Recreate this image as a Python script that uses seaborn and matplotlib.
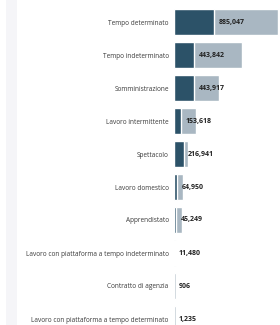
import matplotlib
matplotlib.use("Agg")
import matplotlib.pyplot as plt
import seaborn as sns
import pandas as pd
from matplotlib.patches import Rectangle

categories = [
    "Tempo determinato",
    "Tempo indeterminato",
    "Somministrazione",
    "Lavoro intermittente",
    "Spettacolo",
    "Lavoro domestico",
    "Apprendistato",
    "Lavoro con piattaforma a tempo indeterminato",
    "Contratto di agenzia",
    "Lavoro con piattaforma a tempo determinato",
]
# dark series (labelled values)
valori = [885047, 443842, 443917, 153618, 216941, 64950, 45249, 11480, 906, 1235]
# light background series
totali = [2300000, 1500000, 1000000, 490000, 310000, 200000, 166000, 32000, 30000, 30000]

df = pd.DataFrame({"cat": categories, "val": valori, "tot": totali})

sns.set_theme(style="white")
plt.rcParams["font.family"] = ["Open Sans", "DejaVu Sans"]

fig = plt.figure(figsize=(2.8, 3.25), dpi=100)
ax = fig.add_axes([174.3 / 280, 1 - 335.5 / 325, 1 - 174.3 / 280, 330 / 325])

sns.barplot(data=df, y="cat", x="tot", orient="h", color="#a9b7c2",
            width=0.8, ax=ax, saturation=1)
sns.barplot(data=df, y="cat", x="val", orient="h", color="#2c5268",
            width=0.8, ax=ax, saturation=1)

ax.set_xlim(0, 2.35e6)
ax.set_xlabel("")
ax.set_ylabel("")
ax.set_xticks([])
for s in ax.spines.values():
    s.set_visible(False)
ax.tick_params(axis="y", length=0, pad=4, labelsize=4.7, labelcolor="#3a3a3a")

for i, v in enumerate(valori):
    ax.annotate(f"{v:,}", xy=(v, i), xytext=(3, 0), textcoords="offset points",
                va="center", ha="left", fontsize=5, fontweight="bold", color="#222222")

# left grey strip
fig.patches.append(Rectangle((6 / 280, 0), 11 / 280, 1, transform=fig.transFigure,
                             facecolor="#f5f5f8", edgecolor="none", zorder=0))

fig.savefig("out.png", dpi=100)
